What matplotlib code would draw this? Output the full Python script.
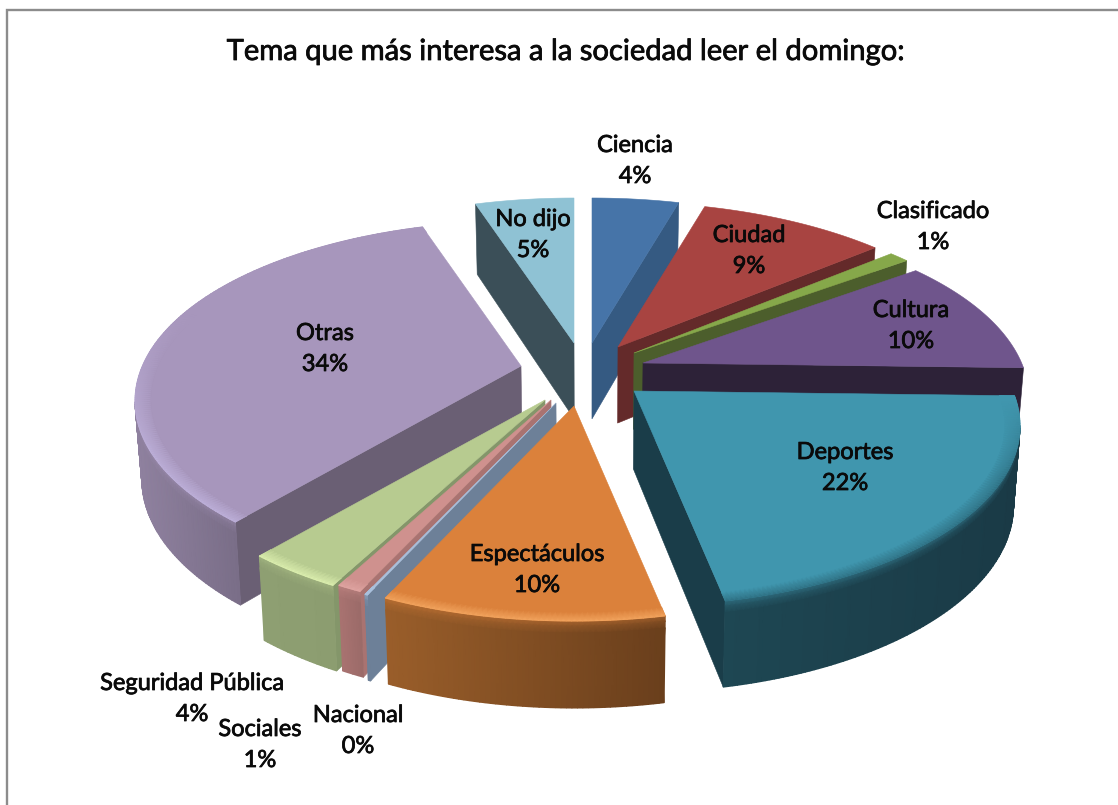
import numpy as np
import matplotlib
matplotlib.use("Agg")
import matplotlib.pyplot as plt
import matplotlib.patheffects as pe
from matplotlib.patches import Polygon
from matplotlib.colors import to_rgb

# ---- data ----
categories = ["Ciencia", "Ciudad", "Clasificado", "Cultura", "Deportes", "Espectáculos",
              "Nacional", "Sociales", "Seguridad Pública", "Otras", "No dijo"]
values = [4, 9, 1, 10, 22, 10, 0.1, 1, 4, 34, 5]
title = "Tema que más interesa a la sociedad leer el domingo:"

# ---- style ----
tops = ["#4674A8", "#A84441", "#86A84A", "#6F558C", "#4096AE", "#DB813B",
        "#A9C0DC", "#CF918E", "#B7CB90", "#A796BC", "#8FC2D4"]
cuts = ["#355A82", "#642A2A", "#4C5E2C", "#2D2238", "#1A3D49", "#6A3F1C",
        "#6D8098", "#A97371", "#84966A", "#6A5F74", "#3B4F58"]
wall_l = ["#355A82", "#642A2A", "#4C5E2C", "#2D2238", "#1E4753", "#9A5E2A",
          "#6D8098", "#A97371", "#8E9F72", "#8F819F", "#3B4F58"]
wall_r = ["#355A82", "#642A2A", "#4C5E2C", "#2D2238", "#1A3A46", "#6A3F1C",
          "#6D8098", "#9B6B69", "#8C9D70", "#7A6E88", "#3B4F58"]
rims = ["#4674A8", "#A84441", "#86A84A", "#5E4878", "#2F7184", "#F2A45E",
        "#A9C0DC", "#E0A5A2", "#DDF0B0", "#BFB2DC", "#8FC2D4"]
tips_x = [592, 618, 634, 643, 634, 574, 556, 551, 545, 521, 574]
tips_y = [343, 347, 353, 363, 391, 406, 403, 400, 400, 366, 343]
label_x = [635, 749, 933, 911, 845, 537, 358, 260, 192, 325, 533]
label_y = [160, 250, 226, 325, 467, 569, 730, 744, 698, 348, 234]
order = [0, 10, 1, 2, 3, 9, 4, 8, 7, 6, 5]
RX, RY, OFF = 386, 180, 35
warp_in = [0, 14.4, 46.8, 50.4, 86.4, 165.6, 201.6, 206, 221, 342, 360]
warp_out = [0, 13, 41.8, 45, 80.4, 166.5, 209.5, 214, 229, 345.2, 360]

fig = plt.figure(figsize=(11.18, 8.05), dpi=100, facecolor="white")
ax = fig.add_axes([0, 0, 1, 1])
ax.set_xlim(0, 1118)
ax.set_ylim(805, 0)
ax.axis("off")
ax.plot([7, 7, 1118], [805, 10, 10], color="#8C8C8C", lw=1.7, solid_joinstyle="miter")


def rgb(c):
    return np.array(to_rgb(c))


def rim_point(theta, tx, ty, s=1.0):
    phi = np.radians(np.interp(theta, warp_in, warp_out))
    return tx + s * RX * np.sin(phi), ty + s * (OFF - RY * np.cos(phi))


def drop(x, y, f=1.0):
    x2, y2 = 590 + (x - 590) * 0.985, y + 76 + 0.04 * (y - 345)
    return x + (x2 - x) * f, y + (y2 - y) * f


def quad(p, color, z):
    ax.add_patch(Polygon(p, closed=True, fc=color, ec=color, lw=0.4, zorder=z))


edges = np.concatenate([[0], np.cumsum(values)]) / np.sum(values) * 360
for rank, i in enumerate(order):
    z = 10 + rank
    tx, ty = tips_x[i], tips_y[i]
    n = max(3, int((edges[i + 1] - edges[i]) * 1.5))
    th = np.linspace(edges[i], edges[i + 1], n)
    xs, ys = rim_point(th, tx, ty)
    # straight cut faces, drawn only if they look towards the viewer
    for (ax_, ay_), (bx, by) in (((tx, ty), (xs[0], ys[0])), ((xs[-1], ys[-1]), (tx, ty))):
        if bx < ax_:
            quad([(ax_, ay_), (bx, by), drop(bx, by), drop(ax_, ay_)], cuts[i], z)
    # outer wall: smooth horizontal gradient and a soft bevel on its upper edge
    front = np.where(np.diff(xs) < 0)[0]
    if len(front):
        idx = np.arange(front[0], front[-1] + 2)
        fr = np.array([0, 0.06, 0.14, 1.0])
        X = np.array([[drop(xs[k], ys[k], f)[0] for k in idx] for f in fr])
        Y = np.array([[drop(xs[k], ys[k], f)[1] for k in idx] for f in fr])
        span = max(np.ptp(xs[idx]), 1)
        t = (xs[idx] - xs[idx].min()) / span
        base = rgb(wall_l[i])[None, :] * (1 - t[:, None]) + rgb(wall_r[i])[None, :] * t[:, None]
        C = np.zeros(X.shape + (3,))
        C[0] = 0.45 * rgb(tops[i]) + 0.55 * base
        C[1] = 0.2 * rgb(tops[i]) + 0.8 * base
        C[2] = base
        C[3] = base
        ax.pcolormesh(X, Y, C, shading="gouraud", zorder=z)
    # top face
    ax.add_patch(Polygon(np.r_[[[tx, ty]], np.c_[xs, ys]], closed=True, fc=tops[i],
                         ec=tops[i], lw=0.4, zorder=z))
    # rim shading on the front part of the top face, fading out at both ends
    phi_deg = np.interp(th, warp_in, warp_out)
    w = np.clip((phi_deg - 82) / 25, 0, 1) * np.clip((300 - phi_deg) / 45, 0, 1)
    if (w > 0).sum() >= 2:
        x1, y1 = rim_point(th, tx, ty, 1.0)
        x2, y2 = rim_point(th, tx, ty, 0.96)
        outer = rgb(tops[i]) + w[:, None] * (rgb(rims[i]) - rgb(tops[i]))
        inner = np.tile(rgb(tops[i]), (len(th), 1))
        ax.pcolormesh(np.array([x1, x2]), np.array([y1, y2]), np.array([outer, inner]),
                      shading="gouraud", zorder=z + 0.5)

font = "Lato"
ink = "#0A0A0A"
stroke = [pe.withStroke(linewidth=0.55, foreground=ink)]
ax.text(566, 60, title, ha="center", va="baseline", fontsize=21, family=font,
        color=ink, zorder=50, path_effects=stroke)
for i, name in enumerate(categories):
    ax.text(label_x[i], label_y[i] - 8, name, ha="center", va="baseline", fontsize=17,
            family=font, color=ink, zorder=50, path_effects=stroke)
    ax.text(label_x[i], label_y[i] + 23, f"{round(values[i])}%", ha="center", va="baseline",
            fontsize=17, family=font, color=ink, zorder=50, path_effects=stroke)

fig.savefig("out.png", dpi=100, facecolor="white")
